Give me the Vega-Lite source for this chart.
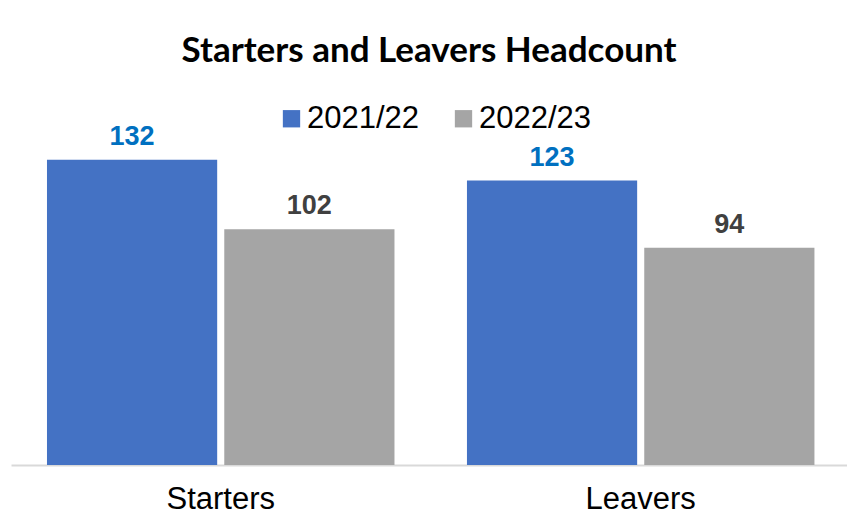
{
  "$schema": "https://vega.github.io/schema/vega-lite/v6.json",
  "width": 836,
  "height": 370,
  "autosize": {"type": "none"},
  "padding": {"left": 11, "top": 95, "right": 0, "bottom": 60},
  "background": "white",
  "title": {"text": "Starters and Leavers Headcount", "font": "Lato", "fontSize": 35, "fontWeight": "bold", "color": "#000000", "anchor": "middle", "offset": 26},
  "data": {"values": [
    {"category": "Starters", "year": "2021/22", "value": 132},
    {"category": "Starters", "year": "2022/23", "value": 102},
    {"category": "Leavers", "year": "2021/22", "value": 123},
    {"category": "Leavers", "year": "2022/23", "value": 94}
  ]},
  "encoding": {
    "x": {"field": "category", "type": "nominal", "sort": ["Starters", "Leavers"],
      "scale": {"paddingInner": 0.1726, "paddingOuter": 0.0816, "align": 0.525},
      "axis": {"title": null, "labelAngle": 0, "labelFont": "Liberation Sans", "labelFontSize": 31, "labelColor": "#000000", "ticks": false, "domainColor": "#D9D9D9", "domainWidth": 2, "labelPadding": 19, "grid": false}},
    "xOffset": {"field": "year", "type": "nominal", "sort": ["2021/22", "2022/23"], "scale": {"paddingInner": 0.04}},
    "y": {"field": "value", "type": "quantitative", "scale": {"domain": [0, 160]}, "axis": null}
  },
  "layer": [
    {"mark": {"type": "bar"},
     "encoding": {"color": {"field": "year", "type": "nominal",
       "scale": {"domain": ["2021/22", "2022/23"], "range": ["#4472C4", "#A5A5A5"]},
       "legend": {"orient": "none", "legendX": 265, "legendY": 8, "padding": 0, "direction": "horizontal", "title": null, "symbolType": "square", "symbolSize": 300, "symbolStrokeWidth": 0, "labelFont": "Liberation Sans", "labelFontSize": 31, "labelColor": "#000000", "columnPadding": 28, "labelOffset": 0}}}},
    {"mark": {"type": "text", "baseline": "alphabetic", "dy": -15, "font": "Liberation Sans", "fontSize": 27, "fontWeight": "bold"},
     "encoding": {"text": {"field": "value", "type": "quantitative"},
       "color": {"condition": {"test": "datum.year === '2021/22'", "value": "#0070C0"}, "value": "#404040"}}}
  ],
  "config": {"view": {"stroke": null}}
}
